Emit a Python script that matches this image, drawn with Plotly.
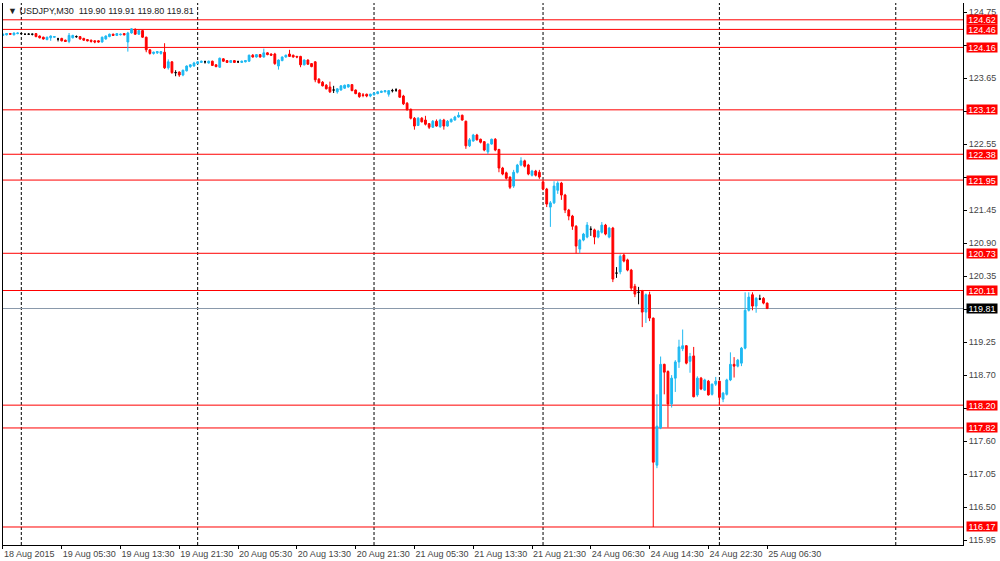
import plotly.graph_objects as go

# ---- data (USDJPY M30, bar index 0 = 19 Aug 2015 00:00) ----
bar_index = list(range(-5, 204))

opens = [
    124.36, 124.37, 124.39, 124.37, 124.39,
    124.39, 124.38, 124.38, 124.38, 124.39, 124.35, 124.33, 124.29, 124.32, 124.33,
    124.30, 124.31, 124.28, 124.26, 124.32, 124.34, 124.34, 124.31, 124.29, 124.28,
    124.27, 124.27, 124.25, 124.30, 124.34, 124.38, 124.36, 124.37, 124.39, 124.25,
    124.40, 124.46, 124.38, 124.44, 124.33, 124.12, 124.06, 124.07, 124.06, 124.08,
    123.82, 123.92, 123.74, 123.75, 123.70, 123.77, 123.84, 123.85,
    123.89, 123.91, 123.92, 123.90, 123.93, 123.87, 123.83, 123.97, 123.94, 123.91,
    123.94, 123.92, 123.91, 123.92, 123.93, 124.03, 124.00, 124.04, 124.00, 124.07,
    124.05, 124.05, 123.85, 123.94, 124.00, 124.05, 124.03, 124.01, 124.01, 123.87,
    123.95, 123.89, 123.92, 123.63, 123.58, 123.53, 123.50, 123.45, 123.42, 123.45,
    123.48, 123.50, 123.54, 123.45, 123.40, 123.37, 123.38, 123.35,
    123.37, 123.39, 123.41, 123.42, 123.38, 123.44, 123.45, 123.45, 123.35, 123.23,
    123.13, 122.98, 122.86, 122.98, 122.95, 122.89, 122.83, 122.93, 122.84, 122.95,
    122.85, 122.92, 122.95, 123.00, 123.03, 122.93, 122.52, 122.60, 122.70, 122.63,
    122.59, 122.42, 122.55, 122.63, 122.46, 122.15, 122.07, 122.00, 121.85, 122.08,
    122.20, 122.27, 122.20, 122.03, 122.10, 122.08,
    121.92, 121.80, 121.50, 121.57, 121.78, 121.90, 121.70, 121.45, 121.35, 121.18,
    120.80, 120.95, 121.00, 121.13, 121.12, 121.00, 121.08, 121.20, 121.00, 121.15,
    120.40, 120.42, 120.70, 120.62, 120.45, 120.18, 120.08, 120.10, 119.75, 120.04,
    119.65, 117.20, 117.82, 118.88, 118.76, 118.22, 118.65, 118.92, 119.14, 119.19,
    118.93, 119.02, 118.37, 118.65, 118.45, 118.60, 118.38, 118.55,
    118.60, 118.30, 118.38, 118.62, 118.88, 118.85, 118.90, 119.15, 119.78, 120.04,
    119.85, 119.97, 119.98, 119.90,
]
highs = [
    124.39, 124.40, 124.40, 124.41, 124.41,
    124.40, 124.39, 124.40, 124.39, 124.40, 124.36, 124.34, 124.34, 124.36, 124.35,
    124.32, 124.32, 124.29, 124.40, 124.37, 124.36, 124.35, 124.32, 124.30, 124.29,
    124.28, 124.28, 124.34, 124.36, 124.39, 124.39, 124.40, 124.39, 124.40, 124.42,
    124.48, 124.48, 124.45, 124.45, 124.34, 124.13, 124.09, 124.10, 124.10, 124.23,
    123.96, 123.93, 123.78, 123.76, 123.79, 123.86, 123.88, 123.92,
    123.93, 123.94, 123.94, 123.94, 123.94, 123.88, 123.99, 123.98, 123.95, 123.95,
    123.95, 123.94, 123.94, 123.95, 124.04, 124.05, 124.05, 124.05, 124.14, 124.08,
    124.06, 124.07, 123.96, 124.01, 124.04, 124.12, 124.04, 124.02, 124.02, 123.96,
    123.96, 123.90, 123.93, 123.65, 123.60, 123.55, 123.59, 123.52, 123.48, 123.53,
    123.54, 123.55, 123.55, 123.46, 123.41, 123.40, 123.39, 123.39,
    123.41, 123.43, 123.44, 123.45, 123.45, 123.47, 123.48, 123.46, 123.37, 123.25,
    123.14, 123.00, 123.00, 123.00, 123.02, 122.90, 122.95, 122.96, 122.97, 122.97,
    122.95, 122.98, 123.02, 123.08, 123.04, 122.94, 122.65, 122.72, 122.72, 122.64,
    122.60, 122.56, 122.64, 122.65, 122.47, 122.17, 122.09, 122.01, 122.12, 122.22,
    122.33, 122.29, 122.22, 122.12, 122.12, 122.12,
    121.95, 121.82, 121.60, 121.93, 121.93, 121.92, 121.72, 121.47, 121.37, 121.20,
    120.97, 121.07, 121.25, 121.18, 121.14, 121.12, 121.25, 121.22, 121.17, 121.17,
    120.50, 120.71, 120.72, 120.64, 120.47, 120.22, 120.17, 120.12, 120.06, 120.09,
    119.66, 118.38, 119.01, 118.89, 118.78, 118.70, 118.95, 119.29, 119.46, 119.20,
    119.07, 119.17, 118.68, 118.67, 118.64, 118.62, 118.56, 118.67,
    118.61, 118.42, 118.64, 119.08, 119.00, 118.97, 119.17, 120.08, 120.08, 120.08,
    120.00, 120.04, 120.00, 119.91,
]
lows = [
    124.35, 124.36, 124.37, 124.36, 124.38,
    124.38, 124.37, 124.37, 124.36, 124.33, 124.31, 124.29, 124.28, 124.27, 124.32,
    124.26, 124.26, 124.25, 124.23, 124.31, 124.32, 124.29, 124.27, 124.26, 124.24,
    124.23, 124.24, 124.24, 124.29, 124.33, 124.35, 124.35, 124.36, 124.36, 124.09,
    124.39, 124.37, 124.37, 124.32, 124.08, 124.04, 124.04, 124.05, 124.04, 123.80,
    123.79, 123.72, 123.68, 123.67, 123.68, 123.76, 123.82, 123.84,
    123.88, 123.90, 123.89, 123.89, 123.85, 123.83, 123.82, 123.92, 123.90, 123.90,
    123.90, 123.90, 123.90, 123.91, 123.92, 123.99, 123.99, 123.99, 123.99, 124.03,
    124.02, 123.87, 123.79, 123.93, 123.99, 124.00, 123.99, 123.98, 123.83, 123.86,
    123.87, 123.83, 123.58, 123.56, 123.51, 123.46, 123.40, 123.40, 123.39, 123.44,
    123.47, 123.49, 123.43, 123.38, 123.32, 123.33, 123.33, 123.33,
    123.36, 123.38, 123.40, 123.41, 123.34, 123.41, 123.42, 123.32, 123.20, 123.11,
    122.96, 122.79, 122.85, 122.91, 122.86, 122.80, 122.82, 122.84, 122.82, 122.79,
    122.84, 122.91, 122.94, 122.99, 122.94, 122.47, 122.50, 122.59, 122.61, 122.56,
    122.43, 122.38, 122.54, 122.43, 122.08, 122.03, 121.96, 121.80, 121.82, 122.06,
    122.18, 122.16, 122.03, 122.01, 122.01, 121.97,
    121.78, 121.50, 121.17, 121.55, 121.72, 121.62, 121.40, 121.28, 121.12, 120.73,
    120.73, 120.93, 120.98, 121.02, 120.88, 120.98, 121.06, 121.03, 120.98, 120.25,
    120.32, 120.38, 120.58, 120.43, 120.10, 120.00, 119.88, 119.50, 119.57, 119.60,
    116.17, 117.15, 117.80, 118.38, 117.83, 118.16, 118.42, 118.82, 119.10, 118.88,
    118.74, 118.33, 118.34, 118.45, 118.44, 118.36, 118.36, 118.52,
    118.20, 118.25, 118.36, 118.60, 118.66, 118.83, 118.85, 119.13, 119.76, 119.78,
    119.74, 119.95, 119.88, 119.80,
]
closes = [
    124.38, 124.39, 124.38, 124.40, 124.40,
    124.39, 124.38, 124.38, 124.38, 124.34, 124.32, 124.30, 124.33, 124.35, 124.34,
    124.30, 124.27, 124.26, 124.36, 124.36, 124.34, 124.30, 124.28, 124.27, 124.26,
    124.25, 124.25, 124.33, 124.35, 124.38, 124.36, 124.39, 124.38, 124.37, 124.40,
    124.47, 124.38, 124.44, 124.33, 124.12, 124.06, 124.08, 124.09, 124.09, 123.82,
    123.92, 123.74, 123.74, 123.70, 123.78, 123.85, 123.87, 123.90,
    123.92, 123.93, 123.92, 123.93, 123.86, 123.84, 123.98, 123.93, 123.91, 123.94,
    123.91, 123.92, 123.93, 123.94, 124.03, 124.00, 124.04, 124.00, 124.07, 124.04,
    124.03, 123.89, 123.95, 124.00, 124.03, 124.01, 124.00, 124.00, 123.87, 123.95,
    123.88, 123.84, 123.62, 123.57, 123.52, 123.47, 123.42, 123.45, 123.47, 123.52,
    123.53, 123.54, 123.44, 123.39, 123.34, 123.36, 123.35, 123.38,
    123.40, 123.42, 123.43, 123.44, 123.44, 123.44, 123.45, 123.33, 123.22, 123.12,
    122.98, 122.85, 122.98, 122.92, 122.88, 122.83, 122.93, 122.85, 122.95, 122.85,
    122.93, 122.96, 123.00, 123.03, 122.95, 122.52, 122.62, 122.70, 122.62, 122.58,
    122.45, 122.55, 122.63, 122.45, 122.15, 122.05, 121.98, 121.83, 122.08, 122.20,
    122.27, 122.18, 122.05, 122.10, 122.03, 122.00,
    121.80, 121.55, 121.57, 121.85, 121.90, 121.70, 121.45, 121.35, 121.18, 120.85,
    120.95, 121.05, 121.20, 121.13, 121.00, 121.10, 121.20, 121.05, 121.15, 120.30,
    120.40, 120.68, 120.60, 120.45, 120.15, 120.05, 120.08, 119.75, 120.04, 119.65,
    117.25, 117.85, 118.88, 118.75, 118.22, 118.65, 118.92, 119.17, 119.19, 118.90,
    119.01, 118.34, 118.65, 118.47, 118.62, 118.37, 118.55, 118.60,
    118.33, 118.40, 118.62, 118.88, 118.85, 118.95, 119.15, 119.78, 120.00, 119.85,
    119.98, 119.97, 119.90, 119.81,
]

level_prices = [124.62, 124.46, 124.16, 123.12, 122.38, 121.95, 120.73, 120.11, 118.20, 117.82, 116.17]
bid_price = 119.81
day_separators = [0, 48, 96, 142, 190, 238]

x_tick_index = [-5, 11, 27, 43, 59, 75, 91, 107, 123, 139, 155, 171, 187, 203]
x_tick_text = ["18 Aug 2015", "19 Aug 05:30", "19 Aug 13:30", "19 Aug 21:30", "20 Aug 05:30",
               "20 Aug 13:30", "20 Aug 21:30", "21 Aug 05:30", "21 Aug 13:30", "21 Aug 21:30",
               "24 Aug 06:30", "24 Aug 14:30", "24 Aug 22:30", "25 Aug 06:30"]
y_tick_values = [115.95, 116.50, 117.05, 117.60, 118.15, 118.70, 119.25, 119.80, 120.35,
                 120.90, 121.45, 122.00, 122.55, 123.10, 123.65, 124.20, 124.75]
y_tick_hidden = [118.15, 119.80, 122.00, 123.10, 124.20]  # covered by the price labels
header_text = "USDJPY,M30  119.90 119.91 119.80 119.81"

# ---- split into up / down / doji ----
groups = {"up": [], "down": [], "doji": []}
for k, xi in enumerate(bar_index):
    o, c = opens[k], closes[k]
    key = "up" if c > o else ("down" if c < o else "doji")
    groups[key].append(k)

BLUE = "#1EB9F2"
RED = "rgb(255,0,0)"
colors = {"up": BLUE, "down": RED, "doji": "#000000"}

fig = go.Figure()
for key, idx in groups.items():
    col = colors[key]
    fig.add_trace(go.Candlestick(
        x=[bar_index[k] for k in idx],
        open=[opens[k] for k in idx],
        high=[highs[k] for k in idx],
        low=[lows[k] for k in idx],
        close=[closes[k] for k in idx],
        increasing=dict(line=dict(color=col, width=1), fillcolor=col),
        decreasing=dict(line=dict(color=col, width=1), fillcolor=col),
        hoverinfo="skip", showlegend=False,
    ))

shapes = []
for d in day_separators:
    shapes.append(dict(type="line", xref="x", yref="paper", x0=d, x1=d, y0=0, y1=1,
                       line=dict(color="#000000", width=1, dash="3px,2px"), layer="below"))
for p in level_prices:
    shapes.append(dict(type="line", xref="paper", yref="y", x0=0, x1=1, y0=p, y1=p,
                       line=dict(color=RED, width=1), layer="below"))
shapes.append(dict(type="line", xref="paper", yref="y", x0=0, x1=1, y0=bid_price, y1=bid_price,
                   line=dict(color="#8A99AB", width=1), layer="below"))

label_font = dict(family="Liberation Sans", size=9, color="#FFFFFF")
annotations = []
for p in level_prices:
    annotations.append(dict(xref="paper", yref="y", x=1, y=p, xanchor="left", yanchor="middle",
                            xshift=3, text=f"{p:.2f}", showarrow=False, bgcolor=RED, borderpad=0,
                            width=30, height=9, align="center", font=label_font))
annotations.append(dict(xref="paper", yref="y", x=1, y=bid_price, xanchor="left", yanchor="middle",
                        xshift=3, text=f"{bid_price:.2f}", showarrow=False, bgcolor="#000000",
                        borderpad=0, width=30, height=9, align="center", font=label_font))
annotations.append(dict(xref="paper", yref="paper", x=0, y=1, xanchor="left", yanchor="top",
                        xshift=3, yshift=-1, text="▼ " + header_text, showarrow=False,
                        font=dict(family="Liberation Sans", size=9, color="#222222")))

fig.update_layout(
    width=1000, height=561,
    margin=dict(l=3, r=37, t=3, b=16, autoexpand=False),
    paper_bgcolor="#FFFFFF", plot_bgcolor="#FFFFFF",
    shapes=shapes, annotations=annotations,
    showlegend=False,
    font=dict(family="Liberation Sans", size=9, color="#444444"),
)
fig.update_xaxes(
    range=[-4.98, 256.3], rangeslider=dict(visible=False), automargin=False,
    tickmode="array", tickvals=x_tick_index, ticktext=x_tick_text, tickangle=0,
    ticks="outside", ticklen=3, tickcolor="#000000", ticklabelposition="outside right",
    showline=True, linecolor="#000000", linewidth=1, showgrid=False, zeroline=False,
    tickfont=dict(family="Liberation Sans", size=9, color="#444444"),
)
fig.update_yaxes(
    range=[115.87, 124.90], side="right", automargin=False,
    tickmode="array", tickvals=y_tick_values,
    ticktext=["" if v in y_tick_hidden else f"{v:.2f}" for v in y_tick_values],
    ticks="outside", ticklen=3, tickcolor="#000000",
    showline=True, mirror=True, linecolor="#000000", linewidth=1, showgrid=False, zeroline=False,
    tickfont=dict(family="Liberation Sans", size=9, color="#444444"),
)

fig.write_html(
    "out.html",
    config={"displayModeBar": False, "staticPlot": True},
    post_script="document.body.style.margin='0';document.body.style.overflow='hidden';",
)
